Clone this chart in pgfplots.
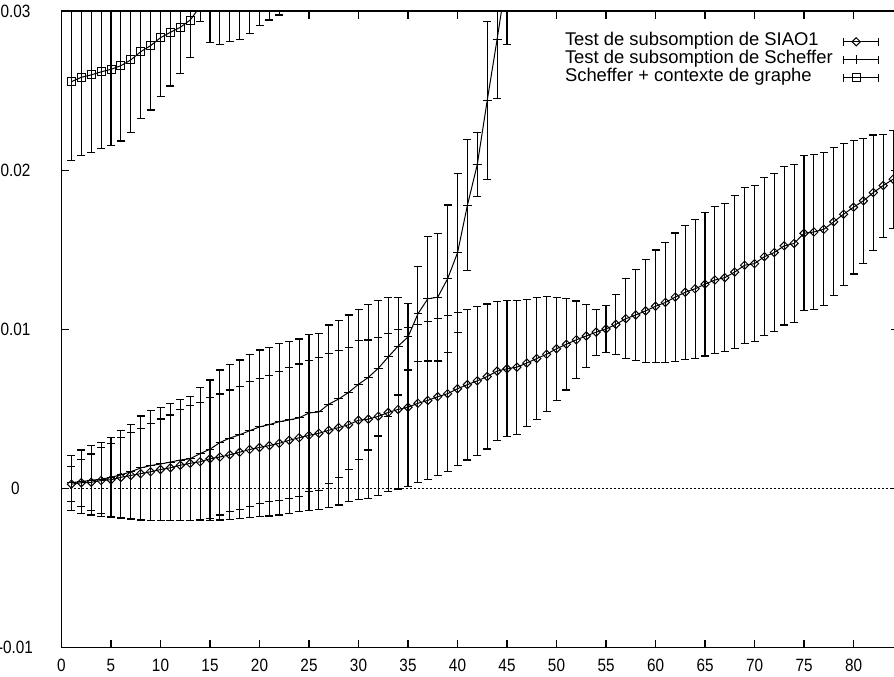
\documentclass[border=0pt]{standalone}
\usepackage{fontspec}
\setmainfont{Liberation Sans}
\newfontfamily\tickfont[FakeStretch=0.86]{Liberation Sans}
\usepackage{pgfplots}
\pgfplotsset{compat=1.18}
\usepackage{pgfplotstable}

% values in units of 0.001
\pgfplotstableread{
x y e
1 0.26 1.10
2 0.35 1.47
3 0.38 1.78
4 0.49 2.06
5 0.54 2.29
6 0.69 2.52
7 0.81 2.69
8 0.92 2.87
9 1.04 3.04
10 1.18 3.18
11 1.29 3.32
12 1.45 3.48
13 1.57 3.61
14 1.67 3.71
15 1.86 3.86
16 1.97 3.96
17 2.11 4.07
18 2.27 4.16
19 2.44 4.27
20 2.57 4.35
21 2.69 4.43
22 2.83 4.51
23 3.02 4.59
24 3.18 4.64
25 3.33 4.70
26 3.46 4.78
27 3.65 4.84
28 3.82 4.87
29 4.00 4.84
30 4.28 5.01
31 4.35 4.98
32 4.53 4.96
33 4.77 4.98
34 4.96 5.00
35 5.10 5.00
36 5.35 4.98
37 5.53 4.95
38 5.76 4.93
39 5.95 4.91
40 6.26 4.80
41 6.52 4.74
42 6.76 4.67
43 7.03 4.56
44 7.37 4.37
45 7.52 4.28
46 7.62 4.22
47 7.88 4.00
48 8.16 3.83
49 8.43 3.62
50 8.78 3.23
51 9.06 2.88
52 9.34 2.44
53 9.58 1.99
54 9.82 1.44
55 10.02 1.47
56 10.31 1.89
57 10.67 2.52
58 10.90 2.87
59 11.16 3.24
60 11.45 3.54
61 11.69 3.76
62 12.03 4.03
63 12.33 4.22
64 12.55 4.37
65 12.84 4.52
66 13.10 4.61
67 13.25 4.67
68 13.60 4.80
69 14.03 4.91
70 14.13 4.91
71 14.57 4.97
72 14.83 4.98
73 15.25 4.98
74 15.40 4.98
75 16.04 4.87
76 16.12 4.86
77 16.29 4.82
78 16.76 4.66
79 17.24 4.46
80 17.68 4.20
81 18.08 3.93
82 18.60 3.62
83 19.04 3.24
84 19.44 3.09
}\siao

\pgfplotstableread{
x y e
1 0.36 1.73
2 0.42 1.99
3 0.51 2.19
4 0.57 2.32
5 0.69 2.52
6 0.85 2.76
7 1.04 3.00
8 1.28 3.27
9 1.43 3.47
10 1.53 3.56
11 1.65 3.69
12 1.78 3.82
13 1.86 3.90
14 2.18 4.17
15 2.46 4.35
16 2.88 4.56
17 3.16 4.63
18 3.37 4.70
19 3.62 4.77
20 3.86 4.84
21 4.01 4.86
22 4.19 4.93
23 4.30 4.93
24 4.43 4.96
25 4.74 4.95
26 4.80 4.95
27 5.29 4.98
28 5.62 4.93
29 6.03 4.87
30 6.54 4.72
31 6.98 4.57
32 7.55 4.26
33 8.26 3.75
34 8.94 3.07
35 9.52 2.08
36 10.97 2.97
37 11.92 3.91
38 12.02 4.01
39 13.18 4.64
40 14.81 5.00
41 17.80 4.11
42 20.37 1.99
43 24.39 4.96
44 28.24 3.74
45 32.30 4.36
}\scheffer

\pgfplotstableread{
x y e
1 25.57 4.97
2 25.85 4.91
3 26.00 4.87
4 26.19 4.83
5 26.35 4.80
6 26.58 4.74
7 26.94 4.58
8 27.46 4.23
9 27.84 4.05
10 28.34 3.71
11 28.68 3.38
12 28.99 2.93
13 29.45 2.34
14 30.30 0.95
15 31.50 3.47
16 32.00 4.08
17 32.50 4.41
18 33.00 4.76
19 33.50 4.88
20 34.00 4.92
21 34.50 5.05
22 35.00 5.23
}\graphe

\pgfplotsset{
  errleg/.style={legend image code/.code={
    \draw[##1] (0pt,0pt) -- (17.5pt,0pt);
    \draw[##1] (0pt,-2pt) -- (0pt,2pt) (17.5pt,-2pt) -- (17.5pt,2pt);
    \draw[##1] plot coordinates {(6.5pt,0pt)};
  }},
  errstyle/.style={
    error bars/.cd, y dir=both, y explicit,
    error bar style={line width=0.55pt, black},
    error mark options={rotate=90, black, line width=0.55pt, mark size=2pt}
  }
}

\begin{document}
\begin{tikzpicture}
\begin{axis}[
  name=ax,
  x=4.95pt, y=7.95pt,
  xmin=0, xmax=84.5, ymin=-10, ymax=30,
  xtick={0,5,...,80},
  ytick={-10,0,10,20,30},
  yticklabels={-0.01,0,0.01,0.02,0.03},
  minor tick num=0,
  tick align=inside,
  major tick length=3.65pt,
  axis line style={line width=0.8pt},
  every tick/.style={black, line width=0.8pt},
  tick label style={font=\tickfont\fontsize{8.9}{10}\selectfont},
  /pgf/number format/assume math mode=true,
  xticklabel style={anchor=center, yshift=-8.85pt},
  yticklabel style={anchor=center, xshift=-23pt},
  legend cell align=left,
  legend plot pos=right,
  legend style={draw=none, fill=none, at={(axis cs:50.86,28.65)}, anchor=north west,
    inner sep=0pt, outer sep=0pt, row sep=0pt,
    font=\fontsize{9.2}{9.2}\selectfont,
    nodes={inner sep=0pt, text height=6.6pt, text depth=2.4pt},
    /tikz/every odd column/.append style={column sep=5pt}},
]
\addplot[forget plot, black, line width=0.5pt, dash pattern=on 1pt off 1pt] coordinates {(0,0) (84.5,0)};

\addplot[black, line width=0.5pt, mark=square, mark size=1.45pt, mark options={rotate=45, solid, line width=0.5pt}, errleg, errstyle]
  table[x=x, y=y, y error=e] {\siao};
\addlegendentry{Test de subsomption de SIAO1}

\addplot[black, line width=0.5pt, mark=+, mark size=2.2pt, mark options={solid, line width=0.5pt}, errleg, errstyle]
  table[x=x, y=y, y error=e] {\scheffer};
\addlegendentry{Test de subsomption de Scheffer}

\addplot[black, line width=0.5pt, mark=square, mark size=2pt, mark options={solid, line width=0.5pt}, errleg, errstyle]
  table[x=x, y=y, y error=e] {\graphe};
\addlegendentry{Scheffer + contexte de graphe}

\coordinate (bbLL) at ([xshift=-30.75pt,yshift=-14.35pt]axis cs:0,-10);
\coordinate (bbUR) at ([yshift=5.65pt]axis cs:84.09,30);
\end{axis}
\pgfresetboundingbox
\path[use as bounding box] (bbLL) rectangle (bbUR);
\end{tikzpicture}
\end{document}
